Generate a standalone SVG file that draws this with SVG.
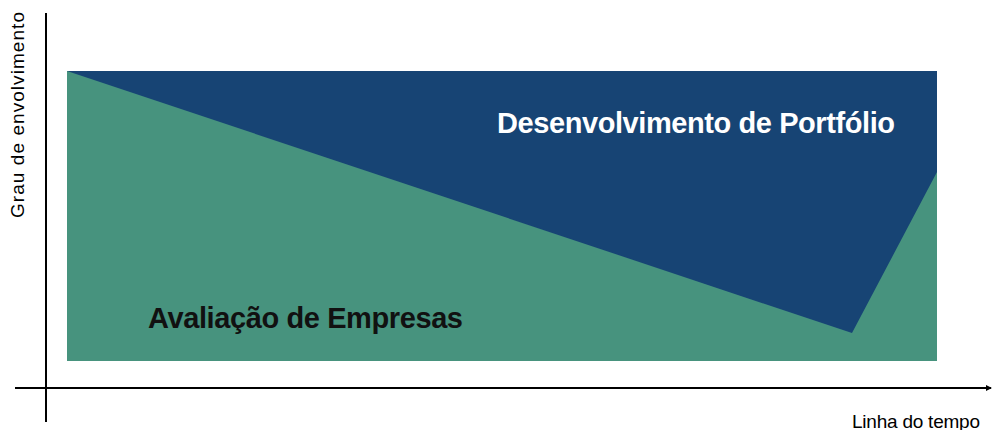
<svg xmlns="http://www.w3.org/2000/svg" width="993" height="430" viewBox="0 0 993 430">
<style>
.ax{stroke:#000;stroke-width:2;fill:none}
.lbl{font-family:"Liberation Sans",Arial,sans-serif;font-size:19px;fill:#000}
.big{font-family:"Liberation Sans",Arial,sans-serif;font-size:29px;font-weight:bold}
</style>
<defs>
<marker id="arr" markerWidth="6" markerHeight="6" refX="5" refY="3" orient="auto" markerUnits="userSpaceOnUse">
<path d="M0,0 L6,3 L0,6 z" fill="#000"/>
</marker>
</defs>
<rect width="993" height="430" fill="#fff"/>
<g id="portfolio">
<rect x="67" y="71" width="870" height="290" fill="#174474"/>
<text class="big" x="497" y="133" fill="#fff" textLength="398">Desenvolvimento de Portfólio</text>
</g>
<g id="avaliacao">
<polygon points="67,71 852,333 937,172 937,361 67,361" fill="#47937E"/>
<text class="big" x="148" y="328" fill="#111" textLength="315">Avaliação de Empresas</text>
</g>
<g id="connectors">
<line class="ax" x1="46" y1="13" x2="46" y2="422"/>
<line class="ax" x1="15" y1="388" x2="991" y2="388" marker-end="url(#arr)"/>
</g>
<text class="lbl" transform="translate(24,218) rotate(-90)" textLength="206">Grau de envolvimento</text>
<text class="lbl" x="852" y="428" textLength="128">Linha do tempo</text>
</svg>
